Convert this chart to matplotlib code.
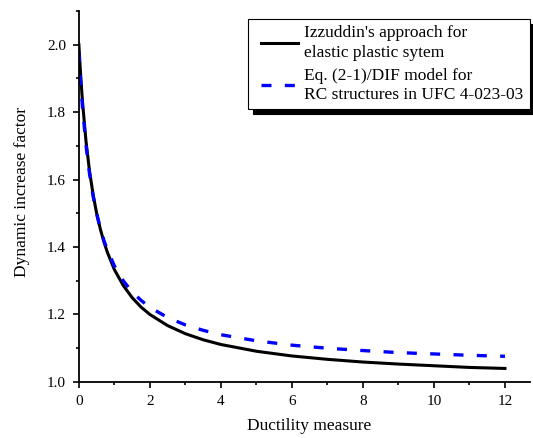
import matplotlib
matplotlib.use("Agg")
import matplotlib.pyplot as plt
from matplotlib.ticker import MultipleLocator
from matplotlib.legend_handler import HandlerLine2D
from matplotlib.lines import Line2D

# Data
ductility = [0, 0.02, 0.05, 0.1, 0.2, 0.3, 0.4, 0.5, 0.6, 0.7, 0.8, 1.0, 1.25, 1.5, 1.75,
             2, 2.5, 3, 3.5, 4, 5, 6, 7, 8, 9, 10, 11, 12]
dif_izzuddin = [2.000, 1.962, 1.909, 1.833, 1.714, 1.625, 1.556, 1.500, 1.455, 1.417, 1.385,
                1.333, 1.286, 1.250, 1.222, 1.200, 1.167, 1.143, 1.125, 1.111, 1.091, 1.077,
                1.067, 1.059, 1.053, 1.048, 1.043, 1.040]
dif_ufc = [1.978, 1.940, 1.889, 1.816, 1.702, 1.617, 1.551, 1.499, 1.457, 1.421, 1.392,
           1.344, 1.300, 1.267, 1.242, 1.221, 1.191, 1.169, 1.153, 1.140, 1.122, 1.109,
           1.100, 1.093, 1.087, 1.083, 1.079, 1.076]
labels = ["Izzuddin's approach for\nelastic plastic sytem",
          "Eq. (2-1)/DIF model for\nRC structures in UFC 4-023-03"]
yticks = [1.0, 1.2, 1.4, 1.6, 1.8, 2.0]
yticklabels = ['1.0', '1.2', '1.4', '1.6', '1.8', '2.0']

plt.rcParams['font.family'] = ['Liberation Serif', 'DejaVu Serif']

fig = plt.figure(figsize=(5.33, 4.38), dpi=100)
ax = fig.add_axes([0.148, 0.128, 0.846, 0.847])

ax.plot(ductility, dif_izzuddin, color='black', lw=2.2, label=labels[0])
ax.plot(ductility, dif_ufc, color='#0000ff', lw=2.4, dashes=(3.0, 4.0), label=labels[1])

ax.set_xlim(0, 12.7)
ax.set_ylim(1.0, 2.1)
ax.xaxis.set_major_locator(MultipleLocator(2))
ax.xaxis.set_minor_locator(MultipleLocator(1))
ax.yaxis.set_minor_locator(MultipleLocator(0.1))
ax.set_yticks(yticks)
ax.set_yticklabels(yticklabels)

for s in ['top', 'right']:
    ax.spines[s].set_visible(False)
for s in ['left', 'bottom']:
    ax.spines[s].set_linewidth(1.3)

ax.tick_params(which='major', direction='out', length=4.3, width=1.2, labelsize=11, pad=5)
ax.tick_params(which='minor', direction='out', length=2.3, width=1.2)

ax.set_xlabel('Ductility measure', fontsize=12.5)
ax.xaxis.set_label_coords(0.511, -0.098)
ax.set_ylabel('Dynamic increase factor', fontsize=12.5)
ax.yaxis.set_label_coords(-0.108, 0.512)

leg = ax.legend(loc='upper right', bbox_to_anchor=(1.0, 0.978), fontsize=12.5,
                frameon=True, fancybox=False, edgecolor='black', framealpha=1,
                shadow={'color': 'black', 'alpha': 1, 'ox': 3.5, 'oy': -3.5},
                handlelength=2.5, labelspacing=0.4, borderpad=0.35, handletextpad=0.4,
                borderaxespad=0,
                handler_map={Line2D: HandlerLine2D(xpad=0.42)})
leg.get_frame().set_linewidth(0.8)
for t in leg.get_texts():
    t.set_linespacing(1.3)

fig.savefig('out.png', dpi=100)
